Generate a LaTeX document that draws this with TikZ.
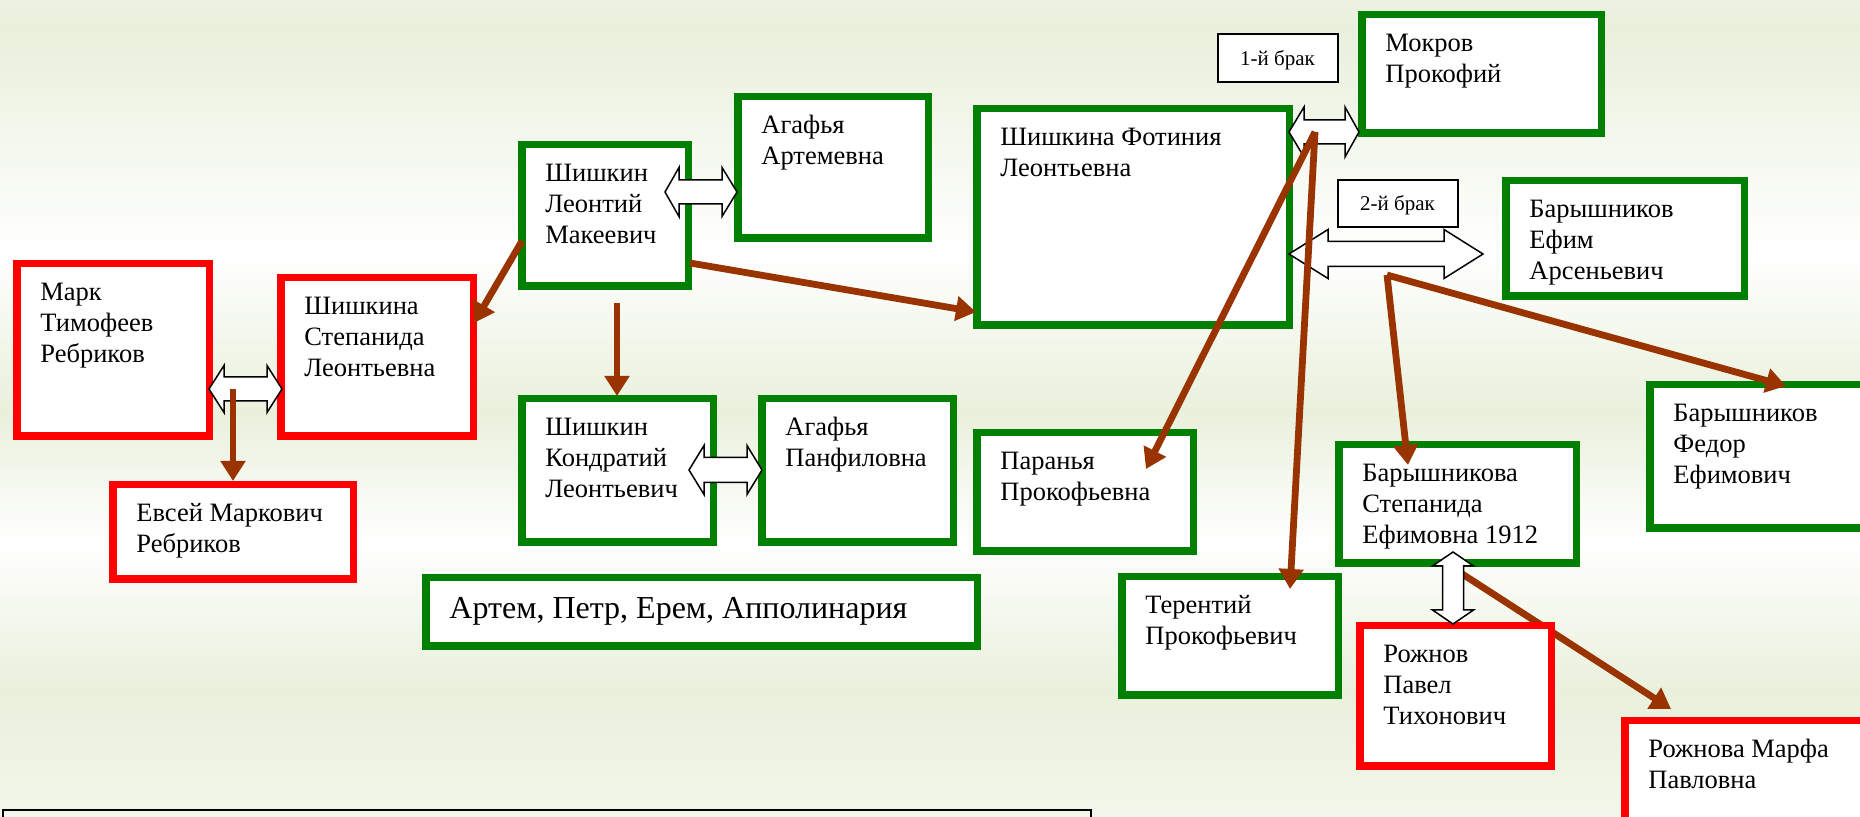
\documentclass[tikz,border=0pt]{standalone}
\usepackage{fontspec}
\setmainfont{Liberation Serif}
\usetikzlibrary{arrows.meta,calc,fit}
\definecolor{bgG}{HTML}{E9F0DB}
\definecolor{boxG}{HTML}{008000}
\definecolor{boxR}{HTML}{FF0000}
\definecolor{brn}{HTML}{993300}
\pgfdeclareverticalshading{bgsh}{100bp}{color(0bp)=(bgG); color(5.1bp)=(bgG); color(15.5bp)=(white); color(32.7bp)=(bgG); color(41.9bp)=(white); color(49.8bp)=(bgG); color(59.6bp)=(white); color(73.1bp)=(bgG); color(86.5bp)=(white); color(97.6bp)=(bgG); color(100bp)=(bgG)}
\pgfdeclarelayer{bg}
\pgfsetlayers{bg,main}
\tikzset{
  gbox/.style={draw=boxG, line width=3.75pt, fill=white, inner sep=0pt},
  rbox/.style={draw=boxR, line width=3.75pt, fill=white, inner sep=0pt},
  lbl/.style={draw=black, line width=1pt, fill=white, inner sep=0pt},
  txt/.style={font=\fontsize{13.25}{15.5}\selectfont, align=left, anchor=base west, inner sep=0pt},
  lbltxt/.style={font=\fontsize{10.5}{12}\selectfont, anchor=base, inner sep=0pt},
  kin/.style={draw=brn, line width=3.4pt, -{Triangle[length=10pt,width=12pt]}},
  marr/.style={draw=black, line width=0.75pt, fill=white, line join=miter},
}
% #1 name, #2 style, #3-#6 outer box, #7 number of lines, #8 text
\newcommand\pbox[8]{%
  \node[#2, fit={(#3+3.75,#4+3.75) (#5-3.75,#6-3.75)}] (#1) {};
  \node[txt] (#1t) at ($(#1.north west)+(27,41+31*#7-31)$) {#8};}
\newcommand\hdbl[7]{\draw[marr] (#1,#3) -- (#1+#6,#3-#4) -- (#1+#6,#3-#5) -- (#2-#7,#3-#5) -- (#2-#7,#3-#4) -- (#2,#3) -- (#2-#7,#3+#4) -- (#2-#7,#3+#5) -- (#1+#6,#3+#5) -- (#1+#6,#3+#4) -- cycle;}
\newcommand\vdbl[7]{\draw[marr] (#3,#1) -- (#3-#4,#1+#6) -- (#3-#5,#1+#6) -- (#3-#5,#2-#7) -- (#3-#4,#2-#7) -- (#3,#2) -- (#3+#4,#2-#7) -- (#3+#5,#2-#7) -- (#3+#5,#1+#6) -- (#3+#4,#1+#6) -- cycle;}
\begin{document}
\begin{tikzpicture}[x=0.5pt,y=-0.5pt]
\useasboundingbox (0,0) rectangle (1860,817);
\begin{pgfonlayer}{bg}
\shade[shading=bgsh] (0,0) rectangle (1860,817);
\end{pgfonlayer}
% boxes
\pbox{mark}{rbox}{13}{260}{213}{440}{3}{Марк\\Тимофеев\\Ребриков}
\pbox{step}{rbox}{277}{274}{477}{440}{3}{Шишкина\\Степанида\\Леонтьевна}
\pbox{evsey}{rbox}{109}{481}{357}{583}{2}{Евсей Маркович\\Ребриков}
\pbox{leo}{gbox}{518}{141}{692}{290}{3}{Шишкин\\Леонтий\\Макеевич}
\pbox{agA}{gbox}{734}{93}{932}{242}{2}{Агафья\\Артемевна}
\pbox{kond}{gbox}{518}{395}{717}{546}{3}{Шишкин\\Кондратий\\Леонтьевич}
\pbox{agP}{gbox}{758}{395}{957}{546}{2}{Агафья\\Панфиловна}
\node[gbox, fit={(422+3.75,574+3.75) (981-3.75,650-3.75)}] (artem) {};
\node[txt, font=\fontsize{16}{19}\selectfont] (artemt) at ($(artem.north west)+(27,45)$) {Артем, Петр, Ерем, Апполинария};
\pbox{fot}{gbox}{973}{105}{1293}{329}{2}{Шишкина Фотиния\\Леонтьевна}
\pbox{mokr}{gbox}{1358}{11}{1605}{137}{2}{Мокров\\Прокофий}
\pbox{efim}{gbox}{1502}{177}{1748}{300}{3}{Барышников\\Ефим\\Арсеньевич}
\pbox{fedor}{gbox}{1646}{381}{1885}{532}{3}{Барышников\\Федор\\Ефимович}
\pbox{par}{gbox}{973}{429}{1197}{555}{2}{Паранья\\Прокофьевна}
\pbox{ter}{gbox}{1118}{573}{1342}{699}{2}{Терентий\\Прокофьевич}
\pbox{bstep}{gbox}{1335}{441}{1580}{567}{3}{Барышникова\\Степанида\\Ефимовна 1912}
\pbox{rozh}{rbox}{1356}{622}{1555}{770}{3}{Рожнов\\Павел\\Тихонович}
\pbox{marfa}{rbox}{1621}{717}{1885}{835}{2}{Рожнова Марфа\\Павловна}
\node[lbl, fit={(1217.5,34.5) (1337.5,82.5)}] (b1) {};
\node[lbltxt] (b1t) at ($(b1.north)+(0,32)$) {1-й брак};
\node[lbl, fit={(1337.5,180.5) (1457.5,227.5)}] (b2) {};
\node[lbltxt] (b2t) at ($(b2.north)+(0,31)$) {2-й брак};
\node[draw=black, line width=1.25pt, inner sep=0pt, fit={(3,810) (1091,860)}] (note) {};
% marriage arrows
\hdbl{209}{282}{389}{23.5}{12}{15}{15}
\hdbl{665}{737}{192}{24.5}{12}{14}{15}
\hdbl{689}{762}{470}{24.5}{12.5}{15}{15}
\hdbl{1289}{1359}{132}{25}{12}{15}{14}
\hdbl{1289}{1483}{254}{24.5}{12.5}{39}{39}
\coordinate (m1) at (233,389);
\coordinate (m4) at (1315,132);
\coordinate (m5) at (1387,275);
\coordinate (m6) at (1453,568);
% child arrow under boxes
\begin{pgfonlayer}{bg}
\draw[kin] (m6) -- ($(marfa.north west)+(50,-8)$);
\end{pgfonlayer}
\vdbl{552}{624}{1453}{20.5}{10.5}{14}{14}
% child arrows
\draw[kin] (m1) -- (m1 |- evsey.north);
\draw[kin] ($(leo.north west)+(4,100)$) -- ($(step.north east)+(-3,49)$);
\draw[kin] ($(leo.south west)+(99,13)$) -- ($(kond.north west)+(99,1)$);
\draw[kin] ($(leo.north east)+(-2,122)$) -- ($(fot.north west)+(3,207)$);
\draw[kin] (m4) -- ($(par.north west)+(173,40)$);
\draw[kin] (m4) -- ($(ter.north west)+(172,16)$);
\draw[kin] (m5) -- ($(bstep.north west)+(73,24)$);
\draw[kin] (m5) -- ($(fedor.north west)+(140,5)$);
\end{tikzpicture}
\end{document}
